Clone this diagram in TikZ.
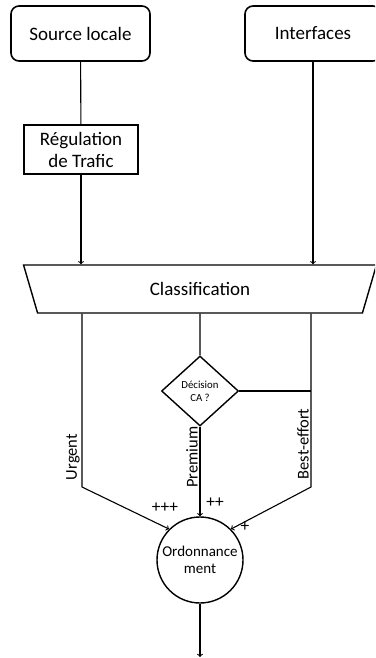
\documentclass[tikz,border=0pt]{standalone}
\usepackage{fontspec}
\setmainfont{Carlito}
\usetikzlibrary{shapes.geometric}

\tikzset{
  boite/.style={draw,line width=1.6pt,rounded corners=8pt,minimum width=139pt,minimum height=55pt},
  regle/.style={draw,line width=1.4pt,minimum width=114pt,minimum height=49pt,align=center,inner sep=1pt},
  lien/.style={line width=1.1pt},
  etiq/.style={rotate=90,anchor=south,inner sep=1pt,font=\fontsize{16.5}{19}\selectfont},
  plus/.style={font=\fontsize{17.4}{20}\selectfont}
}

\begin{document}
\begin{tikzpicture}[->,x=1pt,y=-1pt,font=\fontsize{19}{22}\selectfont]
   \useasboundingbox (0,0) rectangle (375,658);
   \clip (0,0) rectangle (375,658);

   \node[boite] (src) at (80.5,33.5) {Source locale};
   \node[boite,minimum width=136pt] (ifc) at (313,33.5) {Interfaces};
   \node[regle] (reg) at (81,149.5) {R\'egulation\\de Trafic};
   \node[draw,line width=1.4pt,trapezium,shape border rotate=180,trapezium stretches=true,
         trapezium left angle=77,trapezium right angle=77,
         minimum width=353pt,minimum height=48pt] (cls) at (200,289) {Classification};
   \node[draw,line width=1.4pt,diamond,minimum width=77pt,minimum height=70pt,inner sep=0pt,
         align=center,font=\fontsize{10.8}{13}\selectfont] (dec) at (200,391) {D\'ecision\\CA ?};
   \node[draw,line width=1.4pt,circle,minimum size=86pt,inner sep=0pt,align=center,
         font=\fontsize{15}{17}\selectfont] (ord) at (200,560) {Ordonnance\\ment};

   \coordinate (u1) at (82,487);
   \coordinate (b1) at (311,487);
   \coordinate (sortie) at (200,657);

   \path (src) edge[-,lien] (reg);
   \path (reg.south) edge[lien] (reg.south |- cls.north);
   \path (ifc.south) edge[lien] (ifc.south |- cls.north);
   \path (cls.south) edge[-,lien] (dec.north);
   \draw[lien] (u1 |- cls.south) -- (u1) -- (ord.135);
   \draw[lien] (b1 |- cls.south) -- (b1) -- (ord.45);
   \draw[-,lien] (dec.east) -- (dec.east -| b1);
   \path (dec.south) edge[lien] (ord.north);
   \path (ord.south) edge[lien] (sortie);

   \node[etiq] (urg) at (81,457) {Urgent};
   \node[etiq] (pre) at (199,457) {Premium};
   \node[etiq] (bef) at (310,444) {Best-effort};
   \node[plus] (p3) at (165,508) {+++};
   \node[plus] (p2) at (215,503) {++};
   \node[plus] (p1) at (245,527) {+};

\end{tikzpicture}
\end{document}
